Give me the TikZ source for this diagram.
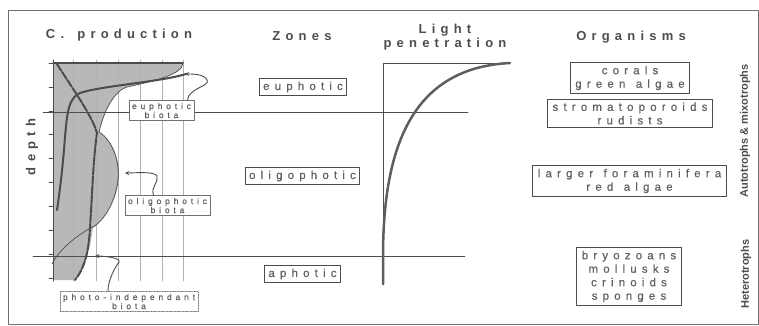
\documentclass[tikz,border=0pt]{standalone}
\usepackage{fontspec}
\setmainfont{Liberation Sans}
\newfontfamily\wide[LetterSpace=40, WordSpace=1.5]{Liberation Sans}
\newfontfamily\wider[LetterSpace=45, WordSpace=1.25, FakeBold=0.6]{Liberation Sans}

\definecolor{ink}{gray}{0.3}
\definecolor{inklight}{gray}{0.38}
\definecolor{areagray}{gray}{0.72}

\tikzset{
	heading/.style={font=\wide\bfseries\fontsize{13}{14}\selectfont, text=ink, align=center},
	zonebox/.style={draw=ink, fill=white, line width=0.9pt, font=\wider\fontsize{11.5}{13.5}\selectfont, text=inklight, inner xsep=4pt, inner ysep=3pt, align=center},
	orgbox/.style={zonebox, inner xsep=5pt},
	biotabox/.style={draw=ink!80, fill=white, line width=0.6pt, font=\wider\fontsize{8.5}{9}\selectfont, text=inklight, inner xsep=3pt, inner ysep=2.5pt, align=center},
	pointer/.style={->, draw=ink, line width=0.9pt},
	sidelabel/.style={font=\bfseries\fontsize{11}{13}\selectfont, text=ink, rotate=90},
}

\begin{document}
\begin{tikzpicture}[x=1pt, y=-1pt, line join=round, line cap=round, >=stealth]
	\useasboundingbox (0,0) rectangle (759,326);
	\draw[ink!80, line width=0.8pt] (8,10) rectangle (758,324);

	% production chart
	\fill[areagray] (53,63) -- (183,63) .. controls (183,75) and (150,82) .. (127,87)
		.. controls (112,92) and (103,115) .. (99,132)
		.. controls (112,140) and (120,160) .. (118,180)
		.. controls (116,200) and (105,220) .. (93,227)
		.. controls (90,250) and (85,268) .. (75,280) -- (53,280) -- cycle;
	\foreach \gx in {73,96,118,140,162,183} {
		\draw[gray!60, line width=0.5pt] (\gx,60) -- (\gx,281);
	}
	\foreach \k in {0,...,9} {
		\draw[ink, line width=0.6pt] (49,{63+23.9*\k}) -- (53,{63+23.9*\k});
	}
	\draw[ink, line width=1pt] (53,60) -- (53,281);
	\draw[ink, line width=1.2pt] (53,63) -- (183,63);
	\draw[ink, line width=0.7pt] (183,63) .. controls (183,75) and (150,82) .. (127,87)
		.. controls (112,92) and (103,115) .. (99,132);
	\draw[ink, line width=1pt, densely dotted] (99,132) .. controls (112,140) and (120,160) .. (118,180)
		.. controls (116,200) and (105,220) .. (93,227);
	\draw[ink, line width=0.7pt] (93,227) .. controls (80,233) and (60,248) .. (52,264);
	\draw[ink, line width=2pt] (186,74) .. controls (160,82) and (100,86) .. (80,93)
		.. controls (68,98) and (67,115) .. (65,137)
		.. controls (63,165) and (60,190) .. (57,210);
	\draw[ink, line width=2pt, dash pattern=on 8pt off 1.5pt] (57,64) .. controls (70,85) and (92,115) .. (97,133)
		.. controls (93,160) and (92,200) .. (90,227)
		.. controls (89,250) and (85,268) .. (75,280);

	% zone limits
	\draw[ink, line width=0.8pt] (43,112) -- (468,112);
	\draw[ink, line width=0.8pt] (33,256) -- (465,256);

	% light chart
	\draw[ink, line width=0.8pt] (383,285) -- (383,63) -- (505,63);
	\draw[ink!90, line width=2.5pt] (383,284) -- (383,257) .. controls (383,150) and (410,68) .. (510,63);

	% titles
	\node[heading] (prodtitle) at (119,35) {C. production};
	\node[heading] (zonetitle) at (302,36) {Zones};
	\node[heading] (lighttitle) at (445,37) {Light\\penetration};
	\node[heading] (orgtitle) at (631,37) {Organisms};
	\node[heading, rotate=90] (depthlabel) at (32,147) {depth};

	% biota labels
	\node[biotabox] (eubiota) at (161.5,110.5) {euphotic\\biota};
	\node[biotabox] (oligobiota) at (167.5,205.5) {oligophotic\\biota};
	\node[biotabox, densely dotted] (photobiota) at (129,301.5) {photo-independant\\biota};
	\coordinate (eutip) at (185,74);
	\coordinate (oligotip) at (125,173);
	\coordinate (phototip) at (95,256);
	\draw[pointer] ([xshift=26pt]eubiota.north) .. controls +(1,-12) and +(4,6) .. (207,80)
		.. controls +(-3,-6) and +(8,0) .. (eutip);
	\draw[pointer] ([xshift=-14pt]oligobiota.north) .. controls +(-3,-8) and +(2,6) .. (157,176)
		.. controls +(-2,-5) and +(8,0) .. (oligotip);
	\draw[pointer] ([xshift=-21pt]photobiota.north) .. controls +(0,-12) and +(-3,4) .. (119,262)
		.. controls +(2,-4) and +(10,0) .. (phototip);

	% zones
	\node[zonebox] (euphotic) at (303,87) {euphotic};
	\node[zonebox] (oligophotic) at (302.5,176) {oligophotic};
	\node[zonebox] (aphotic) at (302.5,274) {aphotic};

	% organisms
	\node[orgbox] (corals) at (630,78) {corals\\green algae};
	\node[orgbox, line width=1.4pt] (stromato) at (630,113.5) {stromatoporoids\\rudists};
	\node[orgbox] (forams) at (629.5,181) {larger foraminifera\\red algae};
	\node[orgbox] (bryozoans) at (629,276.5) {bryozoans\\mollusks\\crinoids\\sponges};

	\node[sidelabel] (autotrophs) at (745,131) {Autotrophs \& mixotrophs};
	\node[sidelabel] (heterotrophs) at (746,274) {Heterotrophs};
\end{tikzpicture}
\end{document}
